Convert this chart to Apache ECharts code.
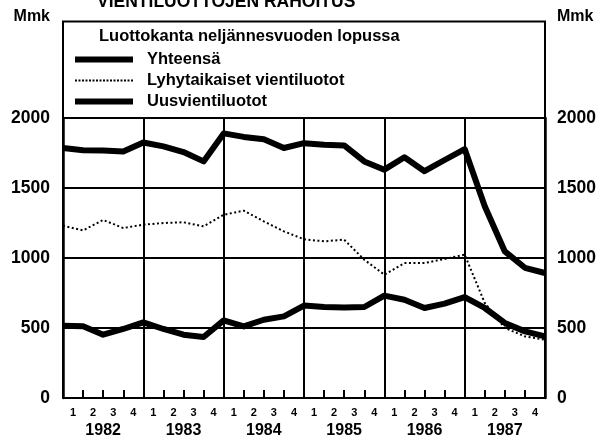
<!DOCTYPE html>
<html>
<head>
<meta charset="utf-8">
<script src="https://cdn.jsdelivr.net/npm/echarts@6/dist/echarts.min.js"></script>
<style>
  html, body { margin: 0; padding: 0; background: #fff; }
  #chart { width: 601px; height: 441px; }
</style>
</head>
<body>
<div id="chart"></div>
<script>
// quarter-end points, 1981 Q4 .. 1987 Q4
const pointLabels = ['81/4',
  '82/1', '82/2', '82/3', '82/4', '83/1', '83/2', '83/3', '83/4',
  '84/1', '84/2', '84/3', '84/4', '85/1', '85/2', '85/3', '85/4',
  '86/1', '86/2', '86/3', '86/4', '87/1', '87/2', '87/3', '87/4'];
const quarterLabels = ['1', '2', '3', '4', '1', '2', '3', '4', '1', '2', '3', '4',
  '1', '2', '3', '4', '1', '2', '3', '4', '1', '2', '3', '4'];
const yearLabels = ['1982', '1983', '1984', '1985', '1986', '1987'];

// Mmk
const yhteensa = [1785, 1770, 1768, 1760, 1825, 1797, 1757, 1690, 1890, 1865, 1848, 1786,
  1820, 1809, 1804, 1690, 1631, 1720, 1620, 1700, 1778, 1370, 1047, 930, 893];
const lyhytaikaiset = [1231, 1197, 1272, 1214, 1238, 1250, 1255, 1226, 1309, 1338, 1262, 1190,
  1134, 1119, 1131, 988, 881, 964, 964, 993, 1024, 679, 500, 440, 416];
const uusvienti = [516, 512, 452, 493, 540, 493, 452, 436, 554, 511, 559, 583,
  660, 650, 646, 650, 731, 702, 643, 674, 721, 643, 536, 476, 440];

const FONT = 'Liberation Sans, Arial, sans-serif';
const chart = echarts.init(document.getElementById('chart'));

// legend samples: solid bar and dotted strip
const solidIcon = 'path://M0,0H58V6H0Z';
let dots = '';
for (let x = 0; x < 58; x += 3.5) dots += 'M' + x + ',0h2v2h-2Z';
const dottedIcon = 'path://' + dots;

const yAxisBase = {
  type: 'value',
  min: 0,
  max: 2000,
  interval: 500,
  axisLine: { show: true, lineStyle: { color: '#000', width: 2.5 } },
  axisTick: { show: false },
  axisLabel: {
    color: '#000', fontSize: 17.5, fontWeight: 'bold', fontFamily: FONT,
    formatter: function (v) { return String(v); }
  }
};

const option = {
  animation: false,
  backgroundColor: '#fff',
  grid: { left: 63, right: 56, top: 118, bottom: 43 },
  xAxis: [
    {
      type: 'category',
      data: pointLabels,
      boundaryGap: false,
      axisLine: { lineStyle: { color: '#000', width: 2 } },
      axisTick: { inside: true, length: 8, interval: 0, lineStyle: { color: '#000', width: 2 } },
      axisLabel: { show: false },
      splitLine: {
        show: true,
        interval: function (i) { return i % 4 === 0; },
        lineStyle: { color: '#000', width: 2 }
      }
    },
    {
      type: 'category',
      data: quarterLabels,
      boundaryGap: true,
      position: 'bottom',
      axisLine: { show: false },
      axisTick: { show: false },
      axisLabel: { interval: 0, margin: 9, color: '#000', fontSize: 11, fontWeight: 'bold', fontFamily: FONT }
    },
    {
      type: 'category',
      data: yearLabels,
      boundaryGap: true,
      position: 'bottom',
      axisLine: { show: false },
      axisTick: { show: false },
      axisLabel: { interval: 0, margin: 25, color: '#000', fontSize: 16, fontWeight: 'bold', fontFamily: FONT }
    }
  ],
  yAxis: [
    Object.assign({}, yAxisBase, {
      position: 'left',
      axisLabel: Object.assign({}, yAxisBase.axisLabel, { margin: 13 }),
      splitLine: { show: true, lineStyle: { color: '#000', width: 2 } }
    }),
    Object.assign({}, yAxisBase, {
      position: 'right',
      axisLabel: Object.assign({}, yAxisBase.axisLabel, { margin: 12 }),
      splitLine: { show: false }
    })
  ],
  legend: {
    orient: 'vertical',
    left: 75,
    top: 51,
    itemWidth: 58,
    itemHeight: 14,
    itemGap: 4,
    padding: 0,
    selectedMode: false,
    textStyle: { color: '#000', fontSize: 16.5, fontWeight: 'bold', fontFamily: FONT, padding: [0, 0, 0, 9] },
    data: [
      { name: 'Yhteensä', icon: solidIcon },
      { name: 'Lyhytaikaiset vientiluotot', icon: dottedIcon },
      { name: 'Uusvientiluotot', icon: solidIcon }
    ]
  },
  graphic: [
    {
      type: 'rect',
      shape: { x: 63, y: 21.5, width: 482, height: 96.5 },
      style: { fill: 'none', stroke: '#000', lineWidth: 2 }
    },
    {
      type: 'text', x: 97, y: 2,
      style: { text: 'VIENTILUOTTOJEN RAHOITUS', fill: '#000', font: 'bold 17.5px ' + FONT, verticalAlign: 'middle' }
    },
    {
      type: 'text', x: 99, y: 36,
      style: { text: 'Luottokanta neljännesvuoden lopussa', fill: '#000', font: 'bold 16.5px ' + FONT, verticalAlign: 'middle' }
    },
    {
      type: 'text', x: 50, y: 17,
      style: { text: 'Mmk', fill: '#000', font: 'bold 16px ' + FONT, align: 'right', verticalAlign: 'middle' }
    },
    {
      type: 'text', x: 557, y: 17,
      style: { text: 'Mmk', fill: '#000', font: 'bold 16px ' + FONT, align: 'left', verticalAlign: 'middle' }
    }
  ],
  series: [
    {
      name: 'Lyhytaikaiset vientiluotot',
      type: 'line',
      data: lyhytaikaiset,
      symbol: 'none',
      color: '#000',
      z: 3,
      lineStyle: { color: '#000', width: 2, type: [2, 2.5] }
    },
    {
      name: 'Yhteensä',
      type: 'line',
      data: yhteensa,
      symbol: 'none',
      color: '#000',
      z: 4,
      lineStyle: { color: '#000', width: 6, join: 'round' }
    },
    {
      name: 'Uusvientiluotot',
      type: 'line',
      data: uusvienti,
      symbol: 'none',
      color: '#000',
      z: 4,
      lineStyle: { color: '#000', width: 6, join: 'round' }
    }
  ]
};

chart.setOption(option);
</script>
</body>
</html>
